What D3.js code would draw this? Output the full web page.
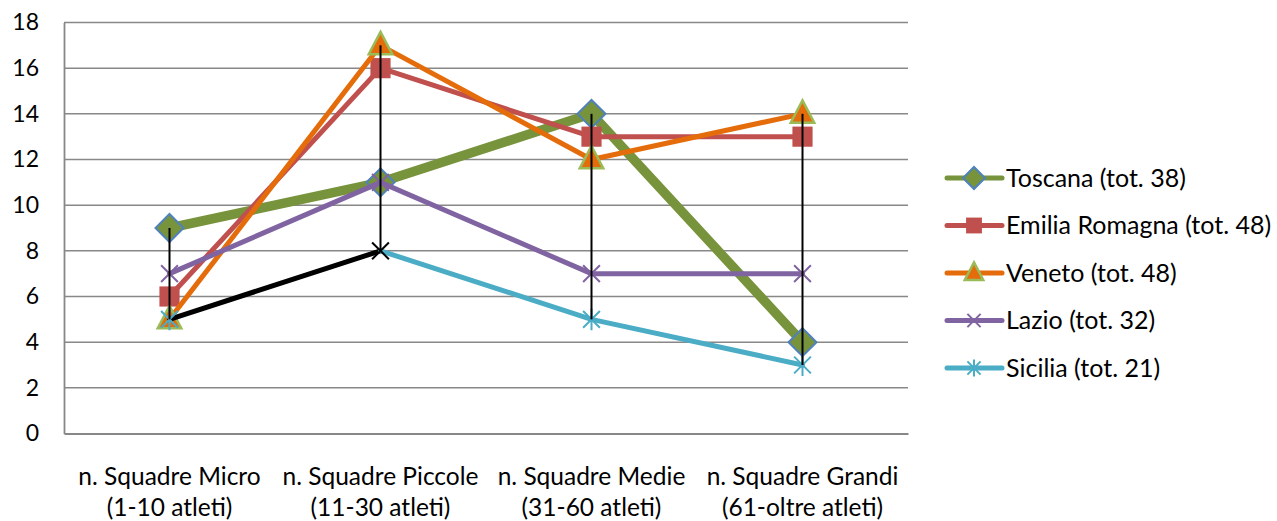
<!DOCTYPE html>
<html>
<head>
<meta charset="utf-8">
<script src="https://cdn.jsdelivr.net/npm/d3@7"></script>
<style>
  body { margin: 0; background: #fff; }
  text { font-family: Lato, "Open Sans", sans-serif; fill: #000; }
</style>
</head>
<body>
<div id="chart"></div>
<script>
// categories (two lines each)
var categories = ["n. Squadre Micro|(1-10 atleti)", "n. Squadre Piccole|(11-30 atleti)",
                  "n. Squadre Medie|(31-60 atleti)", "n. Squadre Grandi|(61-oltre atleti)"];
var yTicks = [0, 2, 4, 6, 8, 10, 12, 14, 16, 18];

var seriesNames = ["Toscana (tot. 38)", "Emilia Romagna (tot. 48)", "Veneto (tot. 48)", "Lazio (tot. 32)", "Sicilia (tot. 21)"];
var toscana = [9, 11, 14, 4];
var emilia  = [6, 16, 13, 13];
var veneto  = [5, 17, 12, 14];
var lazio   = [7, 11, 7, 7];
var sicilia = [5, 8, 5, 3];

var allValues = [toscana, emilia, veneto, lazio, sicilia];

// styling per series
var lineColor = ["#77933C", "#C0504D", "#E46C0A", "#8064A2", "#4BACC6"];
var lineWidth = [9.5, 5, 5, 5, 5];
var markerType = ["diamond", "square", "triangle", "x", "star"];

var W = 1277, H = 521;
var svg = d3.select("#chart").append("svg").attr("width", W).attr("height", H);

var x = d3.scaleBand().domain(d3.range(categories.length)).range([64, 908]);
var y = d3.scaleLinear().domain([0, 18]).range([433.5, 22.5]);
function cx(i){ return x(i) + x.bandwidth()/2; }

// gridlines
svg.append("g").selectAll("line").data(yTicks.filter(function(d){return d>0;})).enter().append("line")
  .attr("x1", 64).attr("x2", 908)
  .attr("y1", function(d){return y(d);}).attr("y2", function(d){return y(d);})
  .attr("stroke", "#888").attr("stroke-width", 1.5);

// y axis
var yAxis = svg.append("g").attr("transform", "translate(64,0)")
  .call(d3.axisLeft(y).tickValues(yTicks).tickSize(0).tickPadding(25));
yAxis.select(".domain").attr("stroke", "#888").attr("stroke-width", 1.8);
yAxis.selectAll("text").style("font-size", "23px").style("font-family", "Lato, sans-serif");

// x axis
var xAxis = svg.append("g").attr("transform", "translate(0,433.5)")
  .call(d3.axisBottom(x).tickSize(0).tickFormat(""));
xAxis.select(".domain").attr("stroke", "#888").attr("stroke-width", 1.8);

var catText = svg.append("g").selectAll("text").data(categories).enter().append("text")
  .attr("text-anchor", "middle").style("font-size", "24.5px");
catText.append("tspan").attr("x", function(d,i){return cx(i);}).attr("y", 485)
  .text(function(d){return d.split("|")[0];});
catText.append("tspan").attr("x", function(d,i){return cx(i);}).attr("y", 516)
  .text(function(d){return d.split("|")[1];});

// markers
function drawMarker(g, type, px, py, s, col) {
  if (type === "diamond") {
    g.append("path").attr("d", d3.symbol().type(d3.symbolSquare).size(s*s*0.5)())
      .attr("transform", "translate(" + px + "," + py + ") rotate(45)")
      .attr("fill", "#77933C").attr("stroke", "#4F81BD").attr("stroke-width", 2);
  } else if (type === "square") {
    g.append("rect").attr("x", px - s*0.36).attr("y", py - s*0.36)
      .attr("width", s*0.72).attr("height", s*0.72).attr("fill", "#C0504D");
  } else if (type === "triangle") {
    var r = s*0.42;
    g.append("path").attr("d", "M" + px + "," + (py - r*1.15) + "L" + (px + r) + "," + (py + r*0.75) + "L" + (px - r) + "," + (py + r*0.75) + "Z")
      .attr("fill", "#E46C0A").attr("stroke", "#9BBB59").attr("stroke-width", 2.5);
  } else if (type === "x") {
    var h = s*0.3;
    g.append("path").attr("d", "M" + (px-h) + "," + (py-h) + "L" + (px+h) + "," + (py+h) + "M" + (px-h) + "," + (py+h) + "L" + (px+h) + "," + (py-h))
      .attr("stroke", col).attr("stroke-width", 2);
  } else if (type === "star") {
    var k = s*0.3;
    g.append("path").attr("d", "M" + (px-k) + "," + (py-k) + "L" + (px+k) + "," + (py+k) + "M" + (px-k) + "," + (py+k) + "L" + (px+k) + "," + (py-k) +
      "M" + px + "," + (py - k*1.3) + "L" + px + "," + (py + k*1.3))
      .attr("stroke", col).attr("stroke-width", 2);
  }
}

var plot = svg.append("g");
allValues.forEach(function(vals, si) {
  var g = plot.append("g");
  for (var i = 0; i < vals.length - 1; i++) {
    // Sicilia: first segment and second point formatted black
    var segCol = (si === 4 && i === 0) ? "#000" : lineColor[si];
    g.append("line")
      .attr("x1", cx(i)).attr("y1", y(vals[i]))
      .attr("x2", cx(i+1)).attr("y2", y(vals[i+1]))
      .attr("stroke", segCol).attr("stroke-width", lineWidth[si]).attr("stroke-linecap", "round");
  }
  vals.forEach(function(v, i) {
    var col = (si === 4 && i === 1) ? "#000" : lineColor[si];
    var t = (si === 4 && i === 1) ? "x" : markerType[si];
    drawMarker(g, t, cx(i), y(v), 28, col);
  });
});

// high-low lines
svg.append("g").selectAll("line").data(d3.range(categories.length)).enter().append("line")
  .attr("x1", cx).attr("x2", cx)
  .attr("y1", function(i){ return y(d3.max(allValues, function(s){return s[i];})); })
  .attr("y2", function(i){ return y(d3.min(allValues, function(s){return s[i];})); })
  .attr("stroke", "#000").attr("stroke-width", 2);

// legend
var leg = svg.append("g").attr("transform", "translate(947,178)");
seriesNames.forEach(function(name, si) {
  var ly = si * 47.5;
  var g = leg.append("g");
  g.append("line").attr("x1", 0).attr("x2", 55).attr("y1", ly).attr("y2", ly)
    .attr("stroke", lineColor[si]).attr("stroke-width", 5).attr("stroke-linecap", "round");
  drawMarker(g, markerType[si], 27, ly, 22, lineColor[si]);
  g.append("text").attr("x", 59).attr("y", ly).attr("dy", "0.35em")
    .style("font-size", "25px").text(name);
});
</script>
</body>
</html>
